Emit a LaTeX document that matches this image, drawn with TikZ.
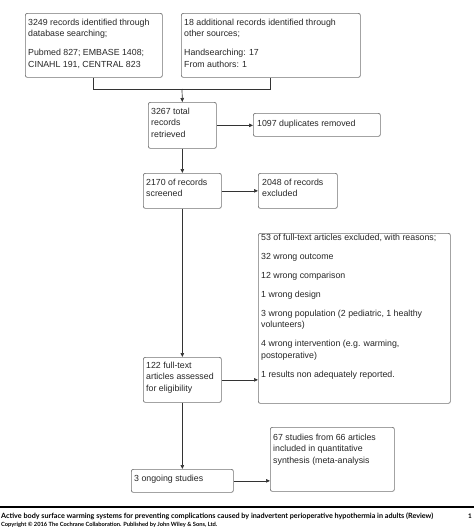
\documentclass[tikz,border=0pt]{standalone}
\usepackage{fontspec}
\setmainfont{Liberation Sans}
\newfontfamily\footfont{Lato}
\usetikzlibrary{arrows.meta,calc}
\begin{document}
\begin{tikzpicture}[x=1pt,y=-1pt,
  box/.style={draw=black!55, line width=0.7pt, rounded corners=2pt, anchor=north west, inner sep=0pt, fill=white},
  txt/.style={anchor=north west, inner sep=0pt, align=left, font=\fontsize{8.8}{11.5}\selectfont, text=black!85},
  conn/.style={draw=black!80, line width=0.7pt},
  arr/.style={conn, -{Triangle[length=4pt,width=3.5pt]}},
  foot/.style={anchor=base west, inner sep=0pt, text=black}]
\fill[white] (0,0) rectangle (474,528);
\useasboundingbox (0,0) rectangle (474,528);

% boxes
\node[box, minimum width=137pt, minimum height=64pt] (b1) at (25,13) {};
\node[box, minimum width=179pt, minimum height=64pt] (b2) at (181,13) {};
\node[box, minimum width=68pt, minimum height=46pt] (b3) at (148,102) {};
\node[box, minimum width=127pt, minimum height=23pt] (b4) at (253,113) {};
\node[box, minimum width=78pt, minimum height=35pt] (b5) at (143,173) {};
\node[box, minimum width=79pt, minimum height=35pt] (b6) at (258,173) {};
\node[box, minimum width=192pt, minimum height=170pt] (b7) at (258,233) {};
\node[box, minimum width=78pt, minimum height=45pt] (b8) at (143,357) {};
\node[box, minimum width=102pt, minimum height=23pt] (b9) at (131,469) {};
\node[box, minimum width=124pt, minimum height=64pt] (b10) at (270,427) {};

% texts
\node[txt] (t1) at (28,18) {\rule{0pt}{7pt}3249 records identified through\\ database searching;\\[7.5pt] Pubmed 827; EMBASE 1408;\\ CINAHL 191, CENTRAL 823};
\node[txt] (t2) at (184,18) {\rule{0pt}{7pt}18 additional records identified through\\ other sources;\\[7.5pt] Handsearching: 17\\ From authors: 1};
\node[txt] (t3) at (151,107) {\rule{0pt}{7pt}3267 total\\ records\\ retrieved};
\node[txt] (t4) at (257,119) {\rule{0pt}{7pt}1097 duplicates removed};
\node[txt] (t5) at (146,178) {\rule{0pt}{7pt}2170 of records\\ screened};
\node[txt] (t6) at (262,178) {\rule{0pt}{7pt}2048 of records\\ excluded};
\node[txt] (t7) at (261,233) {\rule{0pt}{7pt}53 of full-text articles excluded, with reasons;\\[7.5pt]
  32 wrong outcome\\[7.5pt]
  12 wrong comparison\\[7.5pt]
  1 wrong design\\[7.5pt]
  3 wrong population (2 pediatric, 1 healthy\\ volunteers)\\[7.5pt]
  4 wrong intervention (e.g. warming,\\ postoperative)\\[7.5pt]
  1 results non adequately reported.};
\node[txt] (t8) at (146,361) {\rule{0pt}{7pt}122 full-text\\ articles assessed\\ for eligibility};
\node[txt] (t9) at (134,474) {\rule{0pt}{7pt}3 ongoing studies};
\node[txt] (t10) at (273,433) {\rule{0pt}{7pt}67 studies from 66 articles\\ included in quantitative\\ synthesis (meta-analysis};

% connectors
\coordinate (m) at (182,89);
\draw[conn] (b1.south -| 93,0) |- (m);
\draw[conn] (b2.south -| 270,0) |- (m);
\draw[arr] (m) -- (b3.north);
\draw[arr] (b3.east) -- (b3.east -| b4.west);
\draw[arr] (b3.south) -- (b5.north);
\draw[arr] (b5.east) -- (b6.west);
\draw[arr] (b5.south) -- (b8.north);
\draw[arr] (b8.east) -- (b8.east -| b7.west);
\draw[arr] (b8.south) -- (b9.north);
\draw[arr] (b9.east) -- (b9.east -| b10.west);

% footer
\draw[line width=1.2pt] (0,507) -- (474,507);
\node[foot] (f1) at (1,518) {\resizebox{432pt}{!}{\footfont\bfseries Active body surface warming systems for preventing complications caused by inadvertent perioperative hypothermia in adults (Review)}};
\node[foot] (f3) at (468,518) {\resizebox{!}{4.6pt}{\footfont\bfseries 1}};
\node[foot] (f2) at (1,526) {\resizebox{216pt}{!}{\footfont\bfseries Copyright \textcopyright{} 2016 The Cochrane Collaboration. Published by John Wiley \& Sons, Ltd.}};
\end{tikzpicture}
\end{document}
